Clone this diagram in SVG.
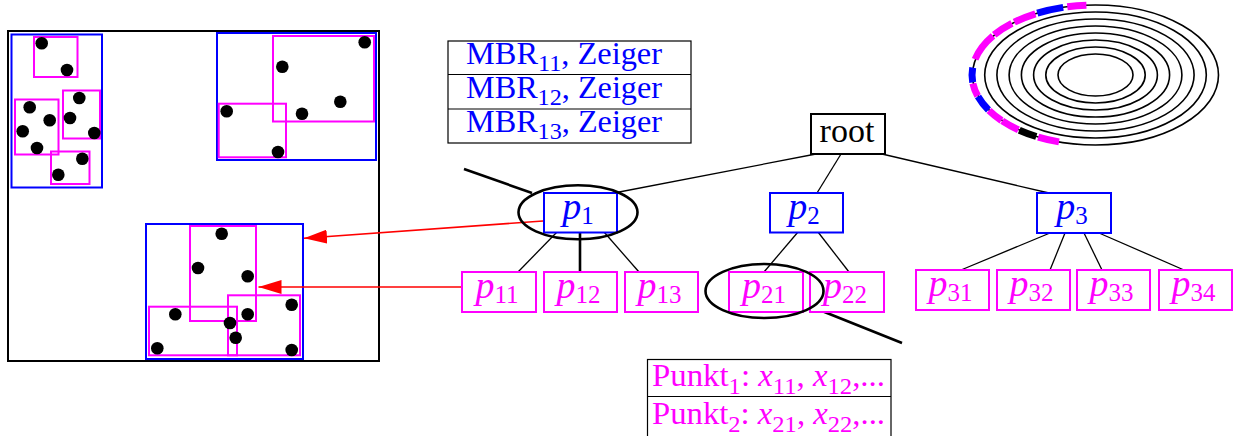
<svg xmlns="http://www.w3.org/2000/svg" width="1234" height="436" viewBox="0 0 1234 436">
<style>
text{font-family:"Liberation Serif","Times New Roman",serif}
.bl{fill:none;stroke:#0000ff;stroke-width:2}
.mg{fill:none;stroke:#ff00ff;stroke-width:2}
.dot{fill:#000}
.nb{fill:#fff;stroke:#0000ff;stroke-width:2}
.nm{fill:#fff;stroke:#ff00ff;stroke-width:2}
.tb{fill:#0000ff;font-size:38px}
.tm{fill:#ff00ff;font-size:38px}
.sub{font-size:25px;font-style:normal}
.tsub{font-size:24px;font-style:normal}
.ln{stroke:#000;stroke-width:1.3;fill:none}
.thick{stroke:#000;stroke-width:2.6;fill:none}
.red{stroke:#ff0000;stroke-width:1.6;fill:none}
.ring{fill:none;stroke:#000;stroke-width:1.6}
.seg{fill:none;stroke-width:7}
.tab{fill:#fff;stroke:#000;stroke-width:1.2}
</style>
<defs>
<marker id="ah" markerUnits="userSpaceOnUse" markerWidth="24" markerHeight="14" refX="23" refY="7" orient="auto">
<path d="M0,0 L23,7 L0,14 Z" fill="#ff0000"/>
</marker>
</defs>

<g id="space">
<rect x="8" y="31" width="371" height="330" fill="#fff" stroke="#000" stroke-width="2"/>
<rect class="bl" x="11.5" y="34.5" width="90.5" height="153"/>
<rect class="mg" x="34" y="37" width="43.5" height="40"/>
<rect class="mg" x="15" y="99.5" width="43.5" height="55"/>
<rect class="mg" x="63" y="90.5" width="37" height="48"/>
<rect class="mg" x="51" y="151.5" width="38.5" height="32.5"/>
<circle class="dot" cx="41.7" cy="43.3" r="6.3"/>
<circle class="dot" cx="67" cy="70" r="6.3"/>
<circle class="dot" cx="79.3" cy="98" r="6.3"/>
<circle class="dot" cx="29.7" cy="107.3" r="6.3"/>
<circle class="dot" cx="49.7" cy="120.3" r="6.3"/>
<circle class="dot" cx="70" cy="118" r="6.3"/>
<circle class="dot" cx="22.7" cy="131.3" r="6.3"/>
<circle class="dot" cx="94.3" cy="133" r="6.3"/>
<circle class="dot" cx="37" cy="148" r="6.3"/>
<circle class="dot" cx="82.3" cy="158.7" r="6.3"/>
<circle class="dot" cx="58.3" cy="174.7" r="6.3"/>

<rect class="bl" x="217" y="33" width="159" height="127"/>
<rect class="mg" x="273" y="36" width="101" height="85.5"/>
<rect class="mg" x="218.7" y="103.7" width="67.3" height="53.6"/>
<circle class="dot" cx="364.7" cy="42.3" r="6.3"/>
<circle class="dot" cx="282.3" cy="66.7" r="6.3"/>
<circle class="dot" cx="340.3" cy="101.7" r="6.3"/>
<circle class="dot" cx="302" cy="113.7" r="6.3"/>
<circle class="dot" cx="226.7" cy="111.3" r="6.3"/>
<circle class="dot" cx="278" cy="152" r="6.3"/>

<rect class="bl" x="146" y="224" width="157" height="135"/>
<rect class="mg" x="190" y="226" width="66" height="95"/>
<rect class="mg" x="149" y="306.7" width="88" height="48.6"/>
<rect class="mg" x="228" y="295.3" width="72" height="60"/>
<circle class="dot" cx="221.7" cy="233.7" r="6.3"/>
<circle class="dot" cx="198" cy="268" r="6.3"/>
<circle class="dot" cx="247.7" cy="276.3" r="6.3"/>
<circle class="dot" cx="175.3" cy="314.3" r="6.3"/>
<circle class="dot" cx="247.7" cy="314.3" r="6.3"/>
<circle class="dot" cx="230" cy="323" r="6.3"/>
<circle class="dot" cx="235.7" cy="337.7" r="6.3"/>
<circle class="dot" cx="291.7" cy="304.7" r="6.3"/>
<circle class="dot" cx="157.3" cy="348.3" r="6.3"/>
<circle class="dot" cx="291.7" cy="350" r="6.3"/>
</g>

<g id="mbr-table">
<rect class="tab" x="448" y="41" width="243" height="102"/>
<line x1="448" y1="74.5" x2="691" y2="74.5" stroke="#000" stroke-width="1.2"/>
<line x1="448" y1="109" x2="691" y2="109" stroke="#000" stroke-width="1.2"/>
<text x="466" y="64" fill="#0000ff" font-size="32" textLength="196" lengthAdjust="spacingAndGlyphs">MBR<tspan class="tsub" dy="7">11</tspan><tspan dy="-7">, Zeiger</tspan></text>
<text x="466" y="98" fill="#0000ff" font-size="32" textLength="196" lengthAdjust="spacingAndGlyphs">MBR<tspan class="tsub" dy="7">12</tspan><tspan dy="-7">, Zeiger</tspan></text>
<text x="466" y="132" fill="#0000ff" font-size="32" textLength="196" lengthAdjust="spacingAndGlyphs">MBR<tspan class="tsub" dy="7">13</tspan><tspan dy="-7">, Zeiger</tspan></text>
</g>

<g id="rings">
<ellipse class="ring" cx="1095.5" cy="75" rx="123" ry="70"/>
<ellipse class="ring" cx="1095.5" cy="75" rx="110.8" ry="63"/>
<ellipse class="ring" cx="1095.5" cy="75" rx="98.6" ry="56"/>
<ellipse class="ring" cx="1095.5" cy="75" rx="86.4" ry="49"/>
<ellipse class="ring" cx="1095.5" cy="75" rx="74.1" ry="42"/>
<ellipse class="ring" cx="1095.5" cy="75" rx="61.9" ry="35"/>
<ellipse class="ring" cx="1095.5" cy="75" rx="49.7" ry="28"/>
<ellipse class="ring" cx="1095.5" cy="75" rx="37.5" ry="21"/>
<path class="seg" stroke="#ff00ff" d="M1067.3,6.8 A123,70 0 0 1 1086.4,5.2"/>
<path class="seg" stroke="#0000ff" d="M1037.3,13.2 A123,70 0 0 1 1063.2,7.4"/>
<path class="seg" stroke="#ff00ff" d="M1014.3,22.2 A123,70 0 0 1 1035.4,13.8"/>
<path class="seg" stroke="#ff00ff" d="M994.2,34.8 A123,70 0 0 1 1011.9,23.4"/>
<path class="seg" stroke="#ff00ff" d="M975.1,59.3 A123,70 0 0 1 993.0,35.9"/>
<path class="seg" stroke="#0000ff" d="M972.7,82.3 A123,70 0 0 1 972.7,67.7"/>
<path class="seg" stroke="#ff00ff" d="M977.7,96.0 A123,70 0 0 1 972.9,83.5"/>
<path class="seg" stroke="#0000ff" d="M988.5,110 A123,70 0 0 1 978.0,96.6"/>
<path class="seg" stroke="#ff00ff" d="M1001.5,120.5 A123,70 0 0 1 989.0,110.5"/>
<path class="seg" stroke="#ff00ff" d="M1018.4,129.8 A123,70 0 0 1 1002.2,120.9"/>
<path class="seg" stroke="#000" d="M1036.3,136.5 A123,70 0 0 1 1019.3,130.2"/>
<path class="seg" stroke="#ff00ff" d="M1059.0,141.9 A123,70 0 0 1 1038.2,137.1"/>
</g>

<g id="connectors">
<line class="ln" x1="816" y1="154" x2="614" y2="193"/>
<line class="ln" x1="841" y1="154" x2="817" y2="193"/>
<line class="ln" x1="882" y1="154" x2="1049" y2="193"/>
<line class="ln" x1="557" y1="232" x2="518" y2="272"/>
<line class="thick" x1="580" y1="232" x2="580" y2="272"/>
<line class="ln" x1="604" y1="232" x2="639" y2="272"/>
<line class="ln" x1="798" y1="232" x2="764" y2="272"/>
<line class="ln" x1="818" y1="232" x2="849" y2="272"/>
<line class="ln" x1="1050" y1="233" x2="961" y2="270"/>
<line class="ln" x1="1065" y1="233" x2="1050" y2="270"/>
<line class="ln" x1="1084" y1="233" x2="1102" y2="270"/>
<line class="ln" x1="1099" y1="233" x2="1184" y2="270"/>
<line class="thick" x1="464" y1="169" x2="532" y2="193"/>
<line class="thick" x1="812" y1="307" x2="902" y2="343"/>
<line class="red" x1="543" y1="221" x2="304" y2="238.3" marker-end="url(#ah)"/>
<line class="red" x1="462" y1="287" x2="258.5" y2="287" marker-end="url(#ah)"/>
</g>

<g id="root">
<rect x="811" y="114" width="74" height="40" fill="#fff" stroke="#000" stroke-width="2"/>
<text x="847" y="142" font-size="34" text-anchor="middle" fill="#000">root</text>
</g>
<g id="p1">
<rect class="nb" x="544" y="193" width="73" height="39.5"/>
<text class="tb" x="578" y="219" text-anchor="middle"><tspan font-style="italic">p</tspan><tspan class="sub" dy="5">1</tspan></text>
</g>
<g id="p2">
<rect class="nb" x="770" y="193" width="73" height="39.5"/>
<text class="tb" x="804" y="219" text-anchor="middle"><tspan font-style="italic">p</tspan><tspan class="sub" dy="5">2</tspan></text>
</g>
<g id="p3">
<rect class="nb" x="1037" y="193" width="74" height="40"/>
<text class="tb" x="1072" y="219" text-anchor="middle"><tspan font-style="italic">p</tspan><tspan class="sub" dy="5">3</tspan></text>
</g>
<g id="p11">
<rect class="nm" x="462" y="272" width="74" height="40"/>
<text class="tm" x="497" y="298" text-anchor="middle"><tspan font-style="italic">p</tspan><tspan class="sub" dy="5">11</tspan></text>
</g>
<g id="p12">
<rect class="nm" x="544" y="272" width="73" height="40"/>
<text class="tm" x="578.5" y="298" text-anchor="middle"><tspan font-style="italic">p</tspan><tspan class="sub" dy="5">12</tspan></text>
</g>
<g id="p13">
<rect class="nm" x="625" y="272" width="73" height="40"/>
<text class="tm" x="659.5" y="298" text-anchor="middle"><tspan font-style="italic">p</tspan><tspan class="sub" dy="5">13</tspan></text>
</g>
<g id="p21">
<rect class="nm" x="729" y="272" width="74" height="40"/>
<text class="tm" x="764" y="298" text-anchor="middle"><tspan font-style="italic">p</tspan><tspan class="sub" dy="5">21</tspan></text>
</g>
<g id="p22">
<rect class="nm" x="810" y="272" width="74" height="40"/>
<text class="tm" x="845" y="298" text-anchor="middle"><tspan font-style="italic">p</tspan><tspan class="sub" dy="5">22</tspan></text>
</g>
<g id="p31">
<rect class="nm" x="916" y="270" width="73" height="40"/>
<text class="tm" x="950.5" y="296" text-anchor="middle"><tspan font-style="italic">p</tspan><tspan class="sub" dy="5">31</tspan></text>
</g>
<g id="p32">
<rect class="nm" x="997" y="270" width="73" height="40"/>
<text class="tm" x="1031.5" y="296" text-anchor="middle"><tspan font-style="italic">p</tspan><tspan class="sub" dy="5">32</tspan></text>
</g>
<g id="p33">
<rect class="nm" x="1077" y="270" width="73" height="40"/>
<text class="tm" x="1111.5" y="296" text-anchor="middle"><tspan font-style="italic">p</tspan><tspan class="sub" dy="5">33</tspan></text>
</g>
<g id="p34">
<rect class="nm" x="1159" y="270" width="73" height="40"/>
<text class="tm" x="1193.5" y="296" text-anchor="middle"><tspan font-style="italic">p</tspan><tspan class="sub" dy="5">34</tspan></text>
</g>

<g id="highlights">
<ellipse cx="578" cy="212.3" rx="59.5" ry="27" fill="none" stroke="#000" stroke-width="2.6"/>
<ellipse cx="764.5" cy="291" rx="59" ry="27" fill="none" stroke="#000" stroke-width="2.6"/>
</g>

<g id="punkt-table">
<rect class="tab" x="647.5" y="359.5" width="243.5" height="90"/>
<line x1="647.5" y1="396.5" x2="891" y2="396.5" stroke="#000" stroke-width="1.2"/>
<text x="652" y="386" fill="#ff00ff" font-size="32" textLength="233" lengthAdjust="spacingAndGlyphs">Punkt<tspan class="tsub" dy="7.5">1</tspan><tspan dy="-7.5">: </tspan><tspan font-style="italic">x</tspan><tspan class="tsub" dy="7.5">11</tspan><tspan dy="-7.5">, </tspan><tspan font-style="italic">x</tspan><tspan class="tsub" dy="7.5">12</tspan><tspan dy="-7.5">,...</tspan></text>
<text x="652" y="424" fill="#ff00ff" font-size="32" textLength="233" lengthAdjust="spacingAndGlyphs">Punkt<tspan class="tsub" dy="7.5">2</tspan><tspan dy="-7.5">: </tspan><tspan font-style="italic">x</tspan><tspan class="tsub" dy="7.5">21</tspan><tspan dy="-7.5">, </tspan><tspan font-style="italic">x</tspan><tspan class="tsub" dy="7.5">22</tspan><tspan dy="-7.5">,...</tspan></text>
</g>
</svg>
